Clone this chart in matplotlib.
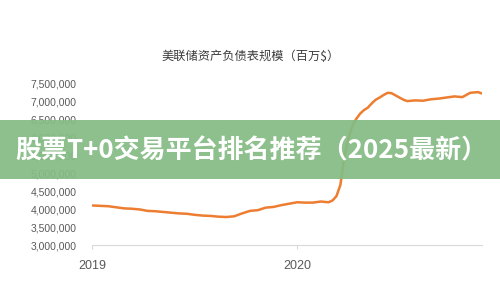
import matplotlib
matplotlib.use("Agg")
import matplotlib.pyplot as plt
from matplotlib.patches import Rectangle
from matplotlib.ticker import FuncFormatter
import pandas as pd

# Fed balance sheet (millions of $)
dates = [
    "2019-01-02", "2019-01-16", "2019-01-30", "2019-02-13", "2019-02-27",
    "2019-03-13", "2019-03-27", "2019-04-10", "2019-04-24", "2019-05-08",
    "2019-05-22", "2019-06-05", "2019-06-19", "2019-07-03", "2019-07-17",
    "2019-07-31", "2019-08-14", "2019-08-28", "2019-09-11", "2019-09-25",
    "2019-10-09", "2019-10-23", "2019-11-06", "2019-11-20", "2019-12-04",
    "2019-12-18", "2020-01-01", "2020-01-15", "2020-01-29", "2020-02-12",
    "2020-02-26", "2020-03-04", "2020-03-11", "2020-03-18", "2020-03-25",
    "2020-04-01", "2020-04-08", "2020-04-15", "2020-04-22", "2020-04-29",
    "2020-05-06", "2020-05-13", "2020-05-20", "2020-05-27", "2020-06-03",
    "2020-06-10", "2020-06-17", "2020-06-24", "2020-07-01", "2020-07-08",
    "2020-07-15", "2020-07-29", "2020-08-12", "2020-08-26", "2020-09-09",
    "2020-09-23", "2020-10-07", "2020-10-21", "2020-11-04", "2020-11-18",
    "2020-11-25",
]
assets = [
    4100000, 4090000, 4080000, 4050000, 4020000,
    4010000, 3990000, 3950000, 3940000, 3920000,
    3900000, 3880000, 3870000, 3840000, 3820000,
    3810000, 3790000, 3780000, 3800000, 3880000,
    3950000, 3970000, 4040000, 4060000, 4110000,
    4150000, 4190000, 4180000, 4180000, 4210000,
    4190000, 4240000, 4360000, 4670000, 5450000,
    5950000, 6300000, 6500000, 6650000, 6750000,
    6820000, 6940000, 7040000, 7100000, 7170000,
    7230000, 7220000, 7160000, 7100000, 7040000,
    7000000, 7020000, 7010000, 7050000, 7070000,
    7100000, 7130000, 7110000, 7230000, 7250000,
    7210000,
]
y_ticks = [3000000, 3500000, 4000000, 4500000, 5000000, 5500000, 6000000, 6500000, 7000000, 7500000]
x_ticks = ["2019-01-01", "2020-01-01"]
x_labels = ["2019", "2020"]

title = "美联储资产负债表规模（百万$）"
banner = "股票T+0交易平台排名推荐（2025最新）"

x = pd.to_datetime(dates)

fig = plt.figure(figsize=(5, 3), dpi=100)
ax = fig.add_axes([0.184, 0.183, 0.78, 0.54])

ax.plot(x, assets, color="#ED7D31", linewidth=1.8, solid_capstyle="round")

ax.set_ylim(3000000, 7500000)
ax.set_xlim(pd.Timestamp("2019-01-01"), pd.Timestamp("2020-11-25"))
ax.set_yticks(y_ticks)
ax.yaxis.set_major_formatter(FuncFormatter(lambda v, p: f"{int(v):,}"))
ax.set_xticks(pd.to_datetime(x_ticks))
ax.set_xticklabels(x_labels)

for s in ["top", "right", "left"]:
    ax.spines[s].set_visible(False)
ax.spines["bottom"].set_color("#d9d9d9")
ax.spines["bottom"].set_linewidth(0.8)
ax.tick_params(axis="y", length=0, labelsize=7.5, labelcolor="#595959", pad=11)
ax.tick_params(axis="x", length=3, color="#d9d9d9", labelsize=9, labelcolor="#595959", pad=8)
for lab in ax.get_xticklabels() + ax.get_yticklabels():
    lab.set_family("Liberation Sans")

fig.text(0.502, 0.813, title, ha="center", va="center", fontsize=8.8,
         color="#3c3c3c", fontweight="medium", family=["Noto Sans CJK SC", "DejaVu Sans"])

# green banner on top of the chart
fig.patches.append(Rectangle((0, 0.403), 1, 0.197, transform=fig.transFigure,
                             facecolor="#84BC84", alpha=0.93, edgecolor="none", zorder=5))
fig.text(0.502, 0.497, banner, ha="center", va="center", fontsize=18.7,
         fontweight="bold", color="white", zorder=6,
         family=["Noto Sans CJK SC", "DejaVu Sans"])

fig.savefig("out.png", dpi=100)
